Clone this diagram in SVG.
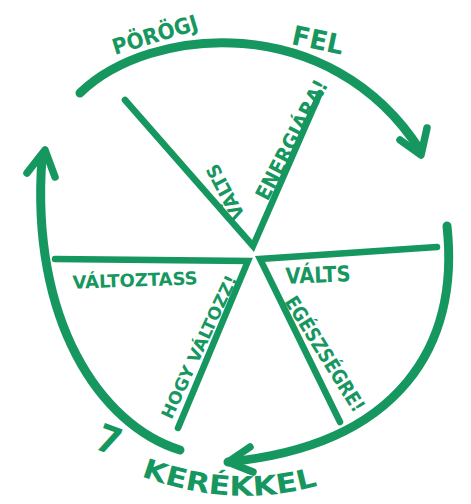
<svg xmlns="http://www.w3.org/2000/svg" width="471" height="504" viewBox="0 0 471 504">
<style>
.arc{fill:none;stroke:#16975f;stroke-width:9;stroke-linecap:round;stroke-linejoin:round}
.head{fill:none;stroke:#16975f;stroke-width:7.5;stroke-linecap:round;stroke-linejoin:round}
.spoke{fill:none;stroke:#16975f;stroke-width:6.5;stroke-linecap:round;stroke-linejoin:miter}
.t{fill:#16975f;font-family:"DejaVu Sans Condensed","DejaVu Sans",sans-serif;font-weight:bold;text-anchor:middle;dominant-baseline:central}
</style>
<rect width="471" height="504" fill="#ffffff"/>
<g id="connectors">
  <path class="arc" d="M 80 93 C 150 25 330 10 420 150"/>
  <polyline class="head" points="400,140 421,155 427,128"/>
  <path class="arc" d="M 180 450 C 100 425 30 320 42 158"/>
  <polyline class="head" points="27,173 45,150 55,177"/>
  <path class="arc" d="M 447 226 C 460 345 400 445 228 462"/>
  <polyline class="head" points="250,447 228,462 253,472"/>
</g>
<g id="wheel-top">
  <polyline class="spoke" points="125,100 253,246 320,93"/>
  <text class="t" x="225" y="192" font-size="19" textLength="60" lengthAdjust="spacingAndGlyphs" transform="rotate(-118 225 192)">VÁLTS</text>
  <text class="t" x="292" y="140" font-size="21" textLength="132" lengthAdjust="spacingAndGlyphs" transform="rotate(-62.6 292 140)">ENERGIÁRA!</text>
</g>
<g id="wheel-left">
  <polyline class="spoke" points="55,259 248,261 178,428"/>
  <text class="t" x="135" y="280" font-size="18" textLength="125" lengthAdjust="spacingAndGlyphs" transform="rotate(-2 135 280)">VÁLTOZTASS</text>
  <text class="t" x="199" y="347" font-size="17" textLength="156" lengthAdjust="spacingAndGlyphs" transform="rotate(-65 199 347)">HOGY VÁLTOZZ!</text>
</g>
<g id="wheel-right">
  <polyline class="spoke" points="437,247 260,259 340,422"/>
  <text class="t" x="318" y="275" font-size="22" textLength="65" lengthAdjust="spacingAndGlyphs" transform="rotate(-2 318 275)">VÁLTS</text>
  <text class="t" x="325" y="354" font-size="20" textLength="132" lengthAdjust="spacingAndGlyphs" transform="rotate(58 325 354)">EGÉSZSÉGRE!</text>
</g>
<g id="title-top">
  <text class="t" x="155" y="35" font-size="22" textLength="88" lengthAdjust="spacingAndGlyphs" transform="rotate(-17 155 35)">PÖRÖGJ</text>
  <text class="t" x="318" y="40" font-size="27" textLength="52" lengthAdjust="spacingAndGlyphs" transform="rotate(12 318 40)">FEL</text>
</g>
<g id="title-bottom">
  <defs><path id="kpath" d="M 141 476 Q 235 511 323 484"/></defs>
  <text class="t" x="109" y="440" font-size="38" transform="rotate(20 109 440)">7</text>
  <text class="t" font-size="27" style="dominant-baseline:auto;text-anchor:start"><textPath href="#kpath" textLength="180" lengthAdjust="spacingAndGlyphs">KERÉKKEL</textPath></text>
</g>
</svg>
